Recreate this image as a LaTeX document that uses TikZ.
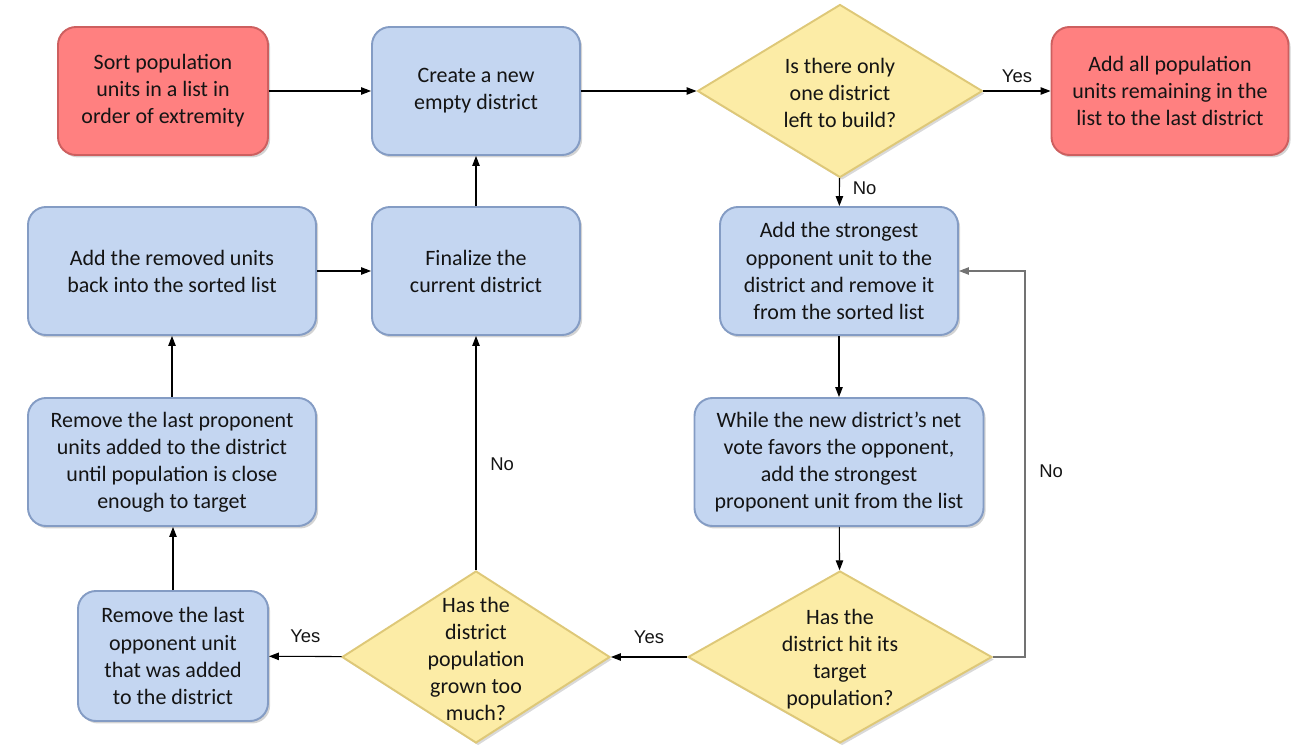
\documentclass[tikz,border=0pt]{standalone}
\usepackage{fontspec}
\setmainfont{Carlito}
\newfontfamily\labfont{Liberation Sans}
\usetikzlibrary{arrows.meta,shapes.geometric,shadows}
\definecolor{redfill}{RGB}{255,128,128}
\definecolor{redline}{RGB}{205,95,95}
\definecolor{bluefill}{RGB}{196,214,241}
\definecolor{blueline}{RGB}{132,156,196}
\definecolor{yelfill}{RGB}{252,236,166}
\definecolor{yelline}{RGB}{222,200,120}
\definecolor{txt}{RGB}{20,20,20}
\tikzset{
  base/.style={rounded corners=3.6mm, line width=1.1pt, align=center, inner sep=2pt,
    font=\fontsize{12.5}{15.4}\selectfont, text=txt,
    drop shadow={opacity=0.35, shadow xshift=1.2pt, shadow yshift=-1.4pt}},
  redbox/.style={base, fill=redfill, draw=redline},
  bluebox/.style={base, fill=bluefill, draw=blueline},
  dia/.style={diamond, fill=yelfill, draw=yelline, line width=1.1pt, inner sep=0pt,
    drop shadow={opacity=0.3, shadow xshift=1.2pt, shadow yshift=-1.4pt}},
  diatext/.style={align=center, font=\fontsize{12.5}{15.4}\selectfont, text=txt, yshift=-1pt},
  arr/.style={-{Triangle[length=2mm,width=1.5mm]}, line width=0.6pt, black},
  lab/.style={font=\labfont\fontsize{10.5}{12}\selectfont, text=txt},
}
\begin{document}
\begin{tikzpicture}[x=0.2mm, y=-0.2mm]
\useasboundingbox (0,0) rectangle (1316,753);
% row 1
\node[redbox, minimum width=42mm, minimum height=25.6mm] (sort) at (163,91)
  {Sort population\\units in a list in\\order of extremity};
\node[bluebox, minimum width=41.6mm, minimum height=25.6mm] (create) at (476,91)
  {Create a new\\empty district};
\node[dia, minimum width=57mm, minimum height=34.6mm] (d1) at (840,91) {};
\node[diatext] at (d1) {Is there only\\one district\\left to build?};
\node[redbox, minimum width=47.4mm, minimum height=25.6mm] (addall) at (1170,91)
  {Add all population\\units remaining in the\\list to the last district};
% row 2
\node[bluebox, minimum width=57.6mm, minimum height=25.6mm] (addrem) at (172,271)
  {Add the removed units\\back into the sorted list};
\node[bluebox, minimum width=41.6mm, minimum height=25.6mm] (final) at (476,271)
  {Finalize the\\current district};
\node[bluebox, minimum width=47.6mm, minimum height=25.6mm] (strong) at (839,271)
  {Add the strongest\\opponent unit to the\\district and remove it\\from the sorted list};
% row 3
\node[bluebox, minimum width=57.6mm, minimum height=25.6mm] (remprop) at (172,462)
  {Remove the last proponent\\units added to the district\\until population is close\\enough to target};
\node[bluebox, minimum width=57.8mm, minimum height=25.6mm] (while) at (839,462)
  {While the new district’s net\\vote favors the opponent,\\add the strongest\\proponent unit from the list};
% row 4
\node[bluebox, minimum width=38mm, minimum height=26mm] (remopp) at (173,656)
  {Remove the last\\opponent unit\\that was added\\to the district};
\node[dia, minimum width=53.6mm, minimum height=34.4mm] (d2) at (476,657) {};
\node[diatext] at (d2) {Has the\\district\\population\\grown too\\much?};
\node[dia, minimum width=60.8mm, minimum height=34.4mm] (d3) at (840,657) {};
\node[diatext] at (d3) {Has the\\district hit its\\target\\population?};
\coordinate (loopc) at (1025,271);
% connectors
\draw[arr] (sort) -- (create);
\draw[arr] (create) -- (d1);
\draw[arr] (d1) -- node[lab, above=1pt] {Yes} (addall);
\draw[arr] (d1) -- node[lab, pos=0.35, right=4pt] {No} (strong);
\draw[arr] (strong) -- (while);
\draw[arr] (while) -- (d3);
\draw[arr] (d3) -- node[lab, above=4pt] {Yes} (d2);
\draw[arr, draw=black!55] (d3.east) -| node[lab, pos=0.74, right=4.5pt] {No} (loopc) -- (strong.east);
\draw[arr] (d2) -- node[lab, above=4pt] {Yes} (remopp);
\draw[arr] (d2.north) -- node[lab, pos=0.45, right=4.5pt] {No} (final.south);
\draw[arr] (remopp.north) -- (remopp.north |- remprop.south);
\draw[arr] (remprop) -- (addrem);
\draw[arr] (addrem) -- (final);
\draw[arr] (final) -- (create);
\end{tikzpicture}
\end{document}
